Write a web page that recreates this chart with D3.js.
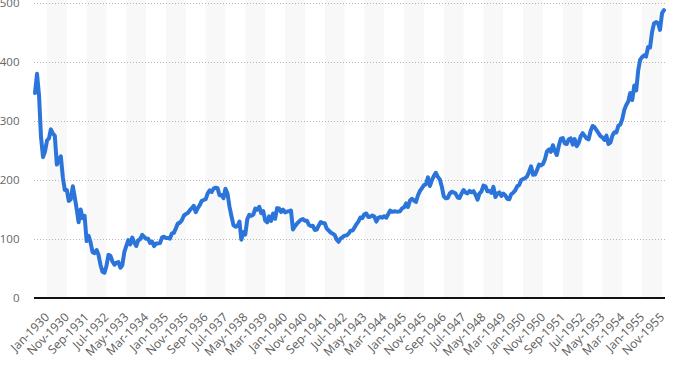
<!DOCTYPE html>
<html>
<head>
<meta charset="utf-8">
<script src="https://cdn.jsdelivr.net/npm/d3@7"></script>
<style>
  html, body { margin: 0; padding: 0; background: #fff; }
  svg { display: block; }
  text { font-family: "Open Sans", "Noto Sans", sans-serif; }
</style>
</head>
<body>
<svg id="chart" width="673" height="365"></svg>
<script>
// ---- Data (monthly closing values) ----
const firstMonth = "1929-07";
const lastMonth = "1955-12";
const values = [
  // 1929 (Jul-Dec)
  347.7, 380.3, 343.5, 273.5, 239.0, 248.5,
  // 1930
  267.1, 271.1, 286.1, 279.2, 275.1, 226.3, 234.0, 240.4, 204.9, 183.4, 183.4, 164.6,
  // 1931
  167.6, 189.7, 172.4, 151.2, 128.5, 150.2, 135.4, 139.4, 96.6, 105.4, 93.9, 77.9,
  // 1932
  76.2, 81.4, 73.3, 56.1, 44.7, 42.8, 54.3, 73.2, 71.6, 61.9, 56.4, 59.9,
  // 1933
  60.9, 51.4, 55.4, 77.7, 88.1, 98.1, 90.8, 102.4, 94.2, 88.2, 98.1, 99.9,
  // 1934
  107.2, 103.5, 100.5, 100.7, 93.4, 95.7, 88.1, 92.6, 92.6, 93.4, 102.9, 104.0,
  // 1935
  101.7, 102.0, 100.8, 109.5, 110.6, 118.2, 126.2, 127.9, 131.9, 139.7, 142.4, 144.1,
  // 1936
  148.9, 152.5, 156.3, 145.7, 152.6, 157.7, 164.9, 166.3, 167.8, 177.4, 182.5, 179.9,
  // 1937
  185.7, 187.2, 186.4, 174.3, 174.7, 169.3, 185.5, 177.4, 154.6, 138.7, 123.5, 120.9,
  // 1938
  121.9, 129.6, 99.0, 111.7, 107.7, 133.9, 141.3, 139.3, 141.5, 151.7, 149.8, 154.8,
  // 1939
  143.8, 147.3, 131.8, 128.5, 138.6, 130.6, 143.3, 134.4, 152.5, 151.9, 145.7, 150.0,
  // 1940
  145.3, 146.5, 147.5, 148.4, 116.2, 121.9, 126.1, 129.6, 132.6, 133.8, 131.0, 131.1,
  // 1941
  124.1, 122.0, 122.7, 115.5, 116.2, 123.1, 128.8, 127.4, 126.8, 117.8, 114.7, 111.0,
  // 1942
  109.1, 106.6, 99.5, 95.4, 100.9, 103.3, 105.7, 106.3, 109.1, 114.1, 114.5, 119.4,
  // 1943
  125.4, 130.0, 136.6, 135.5, 142.1, 143.4, 137.5, 138.0, 140.1, 138.3, 129.6, 135.9,
  // 1944
  137.4, 136.3, 138.8, 136.2, 142.2, 148.4, 146.1, 147.0, 146.7, 146.5, 147.3, 152.3,
  // 1945
  153.7, 160.4, 154.4, 165.4, 168.3, 165.3, 162.9, 174.3, 181.7, 186.6, 191.5, 192.9,
  // 1946
  204.7, 190.1, 199.6, 206.8, 212.5, 205.6, 201.6, 189.2, 172.4, 169.2, 169.8, 177.2,
  // 1947
  180.4, 178.9, 177.2, 170.6, 169.7, 177.3, 183.2, 178.9, 177.5, 181.8, 179.4, 181.2,
  // 1948
  175.1, 166.8, 177.2, 180.9, 190.7, 189.5, 181.3, 181.7, 178.3, 188.6, 171.2, 177.3,
  // 1949
  179.1, 173.1, 177.1, 174.2, 168.4, 167.4, 175.9, 178.7, 182.5, 189.5, 191.6, 200.1,
  // 1950
  201.8, 203.4, 206.1, 214.3, 223.4, 209.1, 209.4, 216.9, 226.4, 225.0, 227.6, 235.4,
  // 1951
  248.8, 252.1, 247.9, 259.1, 249.7, 242.6, 257.9, 270.3, 271.2, 262.4, 261.3, 269.2,
  // 1952
  270.7, 260.1, 269.5, 257.6, 262.9, 274.3, 279.6, 275.0, 270.6, 269.2, 283.7, 291.9,
  // 1953
  289.8, 284.3, 279.9, 274.8, 272.3, 268.3, 275.4, 261.2, 264.0, 275.8, 281.4, 280.9,
  // 1954
  292.4, 294.5, 303.5, 319.3, 327.5, 333.5, 347.9, 335.8, 360.5, 352.1, 386.8, 404.4,
  // 1955
  408.8, 411.9, 409.7, 425.7, 424.9, 451.4, 465.9, 468.2, 466.6, 454.9, 483.3, 488.4
];
const tickLabels = [
  "Jan-1930", "Nov-1930", "Sep-1931", "Jul-1932", "May-1933", "Mar-1934", "Jan-1935", "Nov-1935",
  "Sep-1936", "Jul-1937", "May-1938", "Mar-1939", "Jan-1940", "Nov-1940", "Sep-1941", "Jul-1942",
  "May-1943", "Mar-1944", "Jan-1945", "Nov-1945", "Sep-1946", "Jul-1947", "May-1948", "Mar-1949",
  "Jan-1950", "Nov-1950", "Sep-1951", "Jul-1952", "May-1953", "Mar-1954", "Jan-1955", "Nov-1955"
];
const yTicks = [0, 100, 200, 300, 400, 500];

// ---- Build ----
const parseMonth = d3.utcParse("%Y-%m");
const parseTick = d3.utcParse("%b-%Y");
const months = d3.utcMonth.range(parseMonth(firstMonth), d3.utcMonth.offset(parseMonth(lastMonth), 1));
const series = months.map((d, i) => ({ date: d, value: values[i] }));
const tickDates = tickLabels.map(parseTick);

const svg = d3.select("#chart");
const x = d3.scaleUtc().domain([parseMonth(firstMonth), parseMonth(lastMonth)]).range([35, 664]);
const y = d3.scaleLinear().domain([0, 500]).range([298, 3.3]);
const plotLeft = 34, plotRight = 665;

// alternating bands between labelled ticks
const bands = svg.append("g");
for (let k = 0; k < tickDates.length; k += 2) {
  const x0 = x(tickDates[k]);
  const x1 = k + 1 < tickDates.length ? x(tickDates[k + 1]) : plotRight;
  bands.append("rect")
    .attr("x", x0).attr("y", 0)
    .attr("width", x1 - x0).attr("height", 298)
    .attr("fill", "#f8f8f9");
}

// gridlines
svg.append("g").selectAll("line")
  .data(yTicks.filter(d => d > 0))
  .join("line")
  .attr("x1", plotLeft).attr("x2", plotRight)
  .attr("y1", d => Math.round(y(d)) + 0.5).attr("y2", d => Math.round(y(d)) + 0.5)
  .attr("stroke", "#b5b5b5").attr("stroke-width", 1)
  .attr("stroke-dasharray", "1,2");

// y labels
svg.append("g").selectAll("text")
  .data(yTicks)
  .join("text")
  .attr("x", 19.5).attr("y", d => y(d))
  .attr("dy", "0.35em")
  .attr("text-anchor", "end")
  .attr("font-size", 11.5)
  .attr("fill", "#666")
  .text(d => d);

// x axis line
svg.append("line")
  .attr("x1", plotLeft).attr("x2", plotRight)
  .attr("y1", 298).attr("y2", 298)
  .attr("stroke", "#111").attr("stroke-width", 2);

// x labels
svg.append("g").selectAll("text")
  .data(tickDates)
  .join("text")
  .attr("transform", d => `translate(${x(d) + 3},${318}) rotate(-45)`)
  .attr("text-anchor", "end")
  .attr("font-size", 12)
  .attr("fill", "#5c5c5c")
  .text((d, i) => tickLabels[i]);

// line
const line = d3.line().x(d => x(d.date)).y(d => y(d.value));
svg.append("path")
  .datum(series)
  .attr("d", line)
  .attr("fill", "none")
  .attr("stroke", "#2a74da")
  .attr("stroke-width", 4)
  .attr("stroke-linejoin", "round")
  .attr("stroke-linecap", "round");
</script>
</body>
</html>
